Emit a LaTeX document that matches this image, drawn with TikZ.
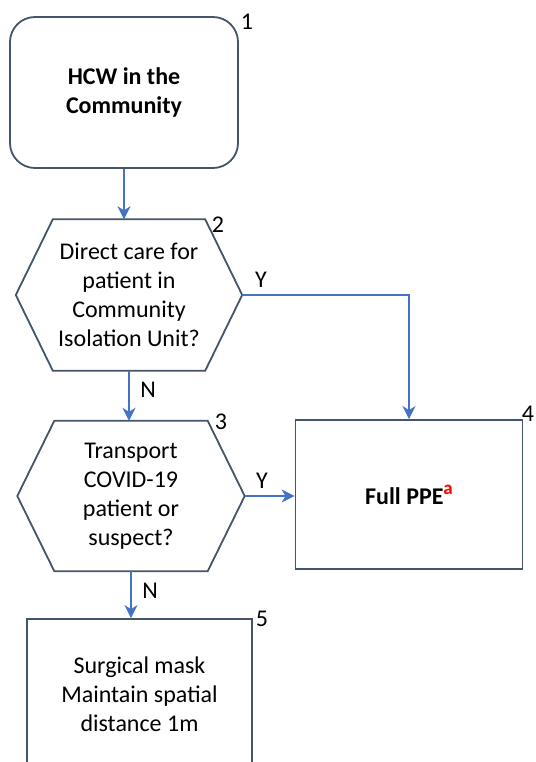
\documentclass[tikz,border=0pt]{standalone}
\usepackage{fontspec}
\setmainfont{Carlito}
\usetikzlibrary{arrows.meta}
\definecolor{edgegray}{HTML}{44546A}
\definecolor{linkblue}{HTML}{4472C4}
\begin{document}
\begin{tikzpicture}[x=1pt,y=-1pt,
  every node/.style={font=\fontsize{24}{29}\selectfont},
  boxnode/.style={draw=edgegray, line width=1.8pt, inner sep=0pt, align=center},
  hexnode/.style={inner sep=0pt, align=center},
  hexline/.style={draw=edgegray, line width=1.8pt, line join=miter},
  link/.style={draw=linkblue, line width=2pt, -{Stealth[length=13pt,width=13pt,inset=4pt]}},
  tag/.style={inner sep=0pt},
]
\useasboundingbox (0,0) rectangle (535,762);

% boxes
\node[boxnode, rounded corners=25pt, minimum width=228pt, minimum height=151pt,
      font=\fontsize{24}{29}\selectfont\bfseries] (n1) at (124,92.5) {HCW in the\\Community};
\node[hexnode, minimum width=226pt, minimum height=151pt] (q2) at (129,295)
  {Direct care for\\patient in\\Community\\Isolation Unit?};
\node[hexnode, minimum width=227pt, minimum height=150pt] (q3) at (131,496)
  {Transport\\COVID-19\\patient or\\suspect?};
\node[boxnode, minimum width=227pt, minimum height=149pt] (b4) at (409,494.5)
  {\bfseries Full PPE\raisebox{10pt}{\fontsize{19}{19}\selectfont\color{red}a}};
\node[boxnode, minimum width=225pt, minimum height=150pt] (b5) at (139.5,694)
  {Surgical mask\\Maintain spatial\\distance 1m};

% hexagon outlines
\draw[hexline] ([xshift=37pt]q2.north west) -- ([xshift=-37pt]q2.north east) -- (q2.east)
  -- ([xshift=-37pt]q2.south east) -- ([xshift=37pt]q2.south west) -- (q2.west) -- cycle;
\draw[hexline] ([xshift=37pt]q3.north west) -- ([xshift=-37pt]q3.north east) -- (q3.east)
  -- ([xshift=-37pt]q3.south east) -- ([xshift=37pt]q3.south west) -- (q3.west) -- cycle;

% numbers
\node[tag] (t1) at (247,22) {1};
\node[tag] (t2) at (218,225) {2};
\node[tag] (t3) at (221,422) {3};
\node[tag] (t4) at (528,414) {4};
\node[tag] (t5) at (262,619) {5};

% connectors
\draw[link] (n1.south) -- (n1.south |- q2.north);
\draw[link] (q2.east) -| (b4.north);
\draw[link] (q2.south) -- (q2.south |- q3.north);
\draw[link] (q3.east) -- (q3.east -| b4.west);
\draw[link] (q3.south) -- (q3.south |- b5.north);

% branch labels
\node[tag] (y1) at (261,280) {Y};
\node[tag] (l1) at (148,390) {N};
\node[tag] (y2) at (262,481) {Y};
\node[tag] (l2) at (150,591) {N};
\end{tikzpicture}
\end{document}
